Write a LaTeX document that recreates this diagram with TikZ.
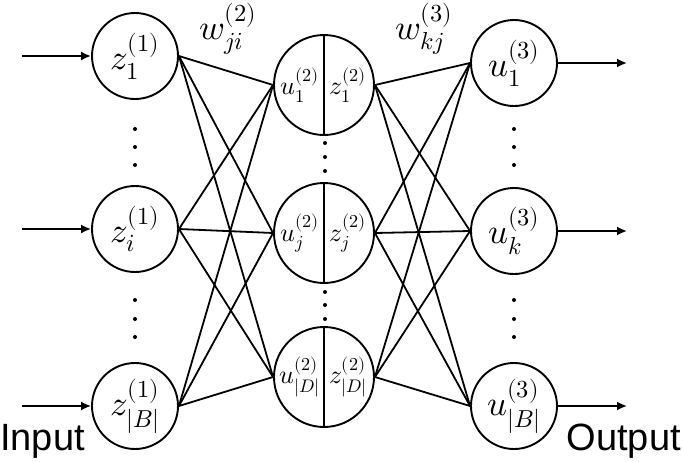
\documentclass[tikz,border=0pt]{standalone}
\usepackage{amsmath}
\usepackage{fontspec}
\usepackage{unicode-math}
\setmathfont{Latin Modern Math}
\setsansfont{Liberation Sans}
\usetikzlibrary{arrows.meta}

\tikzset{
	neuron/.style={draw,circle,line width=1.9pt,minimum size=86pt,inner sep=0pt,font=\fontsize{35}{37}\selectfont},
	hidden/.style={draw,circle,line width=1.9pt,minimum size=100pt,inner sep=0pt},
	half/.style={inner sep=0pt,font=\fontsize{26}{28}\selectfont},
	link/.style={line width=1.8pt},
	feed/.style={-{Latex[length=10pt,width=9pt]},line width=1.8pt},
	layerlab/.style={inner sep=0pt,font=\sffamily\fontsize{38}{40}\selectfont}
}

\begin{document}
\begin{tikzpicture}[x=1pt,y=-1pt]
		\useasboundingbox (0,0) rectangle (683,461);
		
		% input layer
		\node[neuron] (z1) at (135,56) {$z_1^{(1)}$};
		\node[neuron] (zi) at (135,229) {$z_i^{(1)}$};
		\node[neuron] (zB) at (135,406) {$z_{|B|}^{(1)}$};
		
		% hidden layer, each unit split into u | z
		\node[hidden] (h1) at (324,85) {};
		\node[hidden] (hj) at (324,233) {};
		\node[hidden] (hD) at (324,377) {};
		\foreach \h in {h1,hj,hD}
			\draw[line width=1.4pt] (\h.north) -- (\h.south);
		\node[half] (hu1) at ([xshift=-24pt]h1.center) {$u_1^{(2)}$};
		\node[half] (hz1) at ([xshift=24pt]h1.center) {$z_1^{(2)}$};
		\node[half] (huj) at ([xshift=-24pt]hj.center) {$u_j^{(2)}$};
		\node[half] (hzj) at ([xshift=24pt]hj.center) {$z_j^{(2)}$};
		\node[half] (huD) at ([xshift=-24pt]hD.center) {$u_{|D|}^{(2)}$};
		\node[half] (hzD) at ([xshift=24pt]hD.center) {$z_{|D|}^{(2)}$};
		
		% output layer
		\node[neuron] (u1) at (514,63) {$u_1^{(3)}$};
		\node[neuron] (uk) at (514,231) {$u_k^{(3)}$};
		\node[neuron] (uB) at (514,406) {$u_{|B|}^{(3)}$};
		
		% full connections
		\foreach \a in {z1,zi,zB}
			\foreach \b in {h1,hj,hD}
				\draw[link] (\a.east) -- (\b.west);
		\foreach \a in {h1,hj,hD}
			\foreach \b in {u1,uk,uB}
				\draw[link] (\a.east) -- (\b.west);
		
		% weights
		\node[font=\fontsize{35}{37}\selectfont] (w2) at (228,29) {$w_{ji}^{(2)}$};
		\node[font=\fontsize{35}{37}\selectfont] (w3) at (424,29) {$w_{kj}^{(3)}$};
		
		% in and out arrows
		\coordinate (in1) at (22,56);
		\coordinate (ini) at (22,229);
		\coordinate (inB) at (22,406);
		\coordinate (out1) at (627,63);
		\coordinate (outk) at (627,231);
		\coordinate (outB) at (627,406);
		\draw[feed] (in1) -- (z1);
		\draw[feed] (ini) -- (zi);
		\draw[feed] (inB) -- (zB);
		\draw[feed] (u1) -- (out1);
		\draw[feed] (uk) -- (outk);
		\draw[feed] (uB) -- (outB);
		
		% vertical dots
		\foreach \x/\y in {135/129,135/147,135/165,135/300,135/319,135/337,
			325/143,325/157,325/171,325/292,325/305,325/319,
			514/129,514/147,514/165,514/300,514/319,514/337}
			\fill (\x,\y) circle (2pt);
		
		\node[layerlab,anchor=base west] (inlab) at (0,450) {Input};
		\node[layerlab,anchor=base east] (outlab) at (681,450) {Output};
		
	\end{tikzpicture}
\end{document}
